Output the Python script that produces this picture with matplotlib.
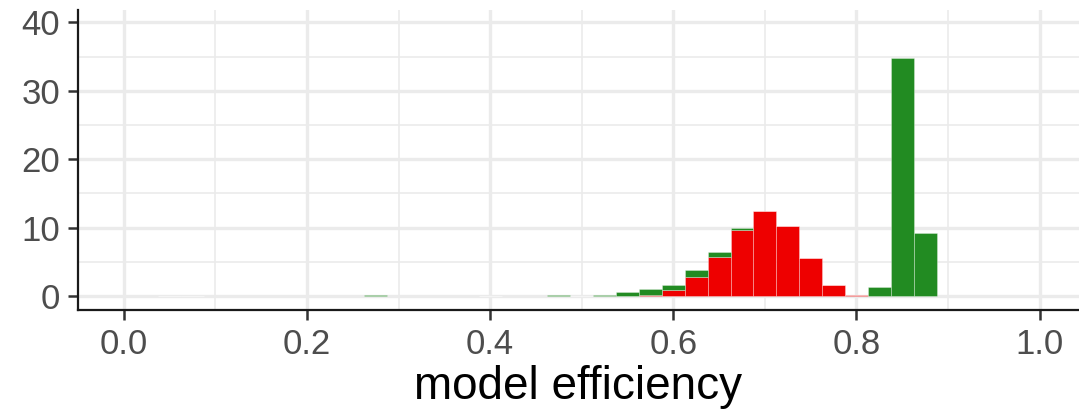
import numpy as np
import matplotlib
matplotlib.use("Agg")
import matplotlib.pyplot as plt

# bin centres (width 0.025) and heights
bin_centres = [0.05, 0.075, 0.275, 0.40, 0.475, 0.50, 0.525, 0.55, 0.575, 0.60,
               0.625, 0.65, 0.675, 0.70, 0.725, 0.75, 0.775, 0.80, 0.825, 0.85, 0.875]
red_counts = [0.0, 0.0, 0.0, 0.0, 0.05, 0.03, 0.02, 0.05, 0.10, 0.88,
              2.77, 5.74, 9.73, 12.46, 10.27, 5.50, 1.56, 0.15, 0.0, 0.0, 0.0]
green_counts = [0.06, 0.06, 0.12, 0.04, 0.05, 0.03, 0.18, 0.58, 0.97, 0.68,
                0.98, 0.68, 0.20, 0.0, 0.0, 0.0, 0.0, 0.0, 1.36, 34.8, 9.25]
bin_width = 0.025

x_ticks = [0.0, 0.2, 0.4, 0.6, 0.8, 1.0]
y_ticks = [0, 10, 20, 30, 40]

plt.rcParams['font.family'] = ['Liberation Sans', 'DejaVu Sans']

fig = plt.figure(figsize=(10.79, 4.18), dpi=100)
ax = fig.add_axes([0.0723, 0.258, 0.9277, 0.718])

# stacked histogram: red at the bottom, green on top
ax.bar(bin_centres, red_counts, width=bin_width, color='#EE0000',
       edgecolor=(1, 1, 1, 0.35), linewidth=0.6, zorder=3)
ax.bar(bin_centres, green_counts, width=bin_width, bottom=red_counts, color='#228B22',
       edgecolor=(1, 1, 1, 0.35), linewidth=0.6, zorder=3)

ax.set_xlim(-0.050, 1.043)
ax.set_ylim(-2.05, 41.8)

ax.set_xticks(x_ticks)
ax.set_xticklabels([f"{v:.1f}" for v in x_ticks])
ax.set_yticks(y_ticks)
ax.set_xticks(np.arange(0.1, 1.05, 0.2), minor=True)
ax.set_yticks([5, 15, 25, 35], minor=True)

ax.grid(which='major', color='#EBEBEB', linewidth=2.4, zorder=0)
ax.grid(which='minor', color='#EBEBEB', linewidth=1.2, zorder=0)
ax.set_axisbelow(True)

for side in ['top', 'right']:
    ax.spines[side].set_visible(False)
for side in ['left', 'bottom']:
    ax.spines[side].set_linewidth(1.6)
    ax.spines[side].set_color('#1A1A1A')

ax.tick_params(which='major', length=7, width=1.8, color='#333333',
               labelsize=25, labelcolor='#4D4D4D', pad=6)
ax.tick_params(which='minor', length=0)

ax.set_xlabel('model efficiency', fontsize=33, color='black', labelpad=3)

fig.savefig('out.png', dpi=100)
